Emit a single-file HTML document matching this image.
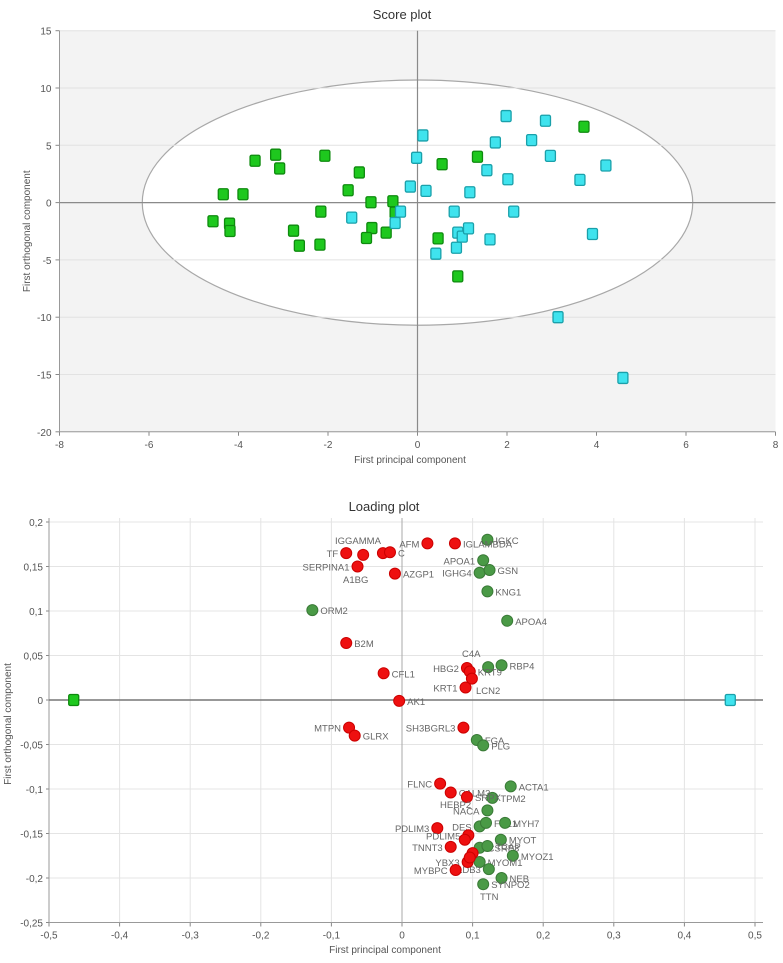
<!DOCTYPE html>
<html><head><meta charset="utf-8"><style>
html,body{margin:0;padding:0;background:#fff;}
svg{display:block;font-family:"Liberation Sans",sans-serif;}
</style></head><body>
<svg id="chart" width="783" height="963" viewBox="0 0 783 963"></svg>
<script>
// ---- Score plot data ----
const scoreGreenX=[-4.34,-3.9,-3.63,-3.17,-3.08,-2.07,-1.3,-1.55,-1.04,-0.55,-2.16,-4.57,-4.2,-4.19,-2.77,-2.64,-2.18,-1.02,-1.14,-0.7,-0.5,0.46,0.55,1.34,3.72,0.9];
const scoreGreenY=[0.73,0.73,3.65,4.18,2.98,4.09,2.63,1.08,0.03,0.12,-0.79,-1.63,-1.84,-2.48,-2.45,-3.76,-3.67,-2.22,-3.09,-2.62,-0.87,-3.12,3.35,4.0,6.62,-6.44];
const scoreCyanX=[0.12,-0.02,1.98,2.86,1.74,2.55,2.97,4.21,1.55,2.02,3.63,-0.16,0.19,1.17,-0.38,-1.47,-0.5,0.82,2.15,0.9,1.0,1.14,0.87,0.41,1.62,3.91,3.14,4.59];
const scoreCyanY=[5.86,3.91,7.55,7.14,5.25,5.45,4.08,3.24,2.83,2.04,1.98,1.4,1.02,0.9,-0.79,-1.31,-1.78,-0.79,-0.79,-2.62,-2.97,-2.25,-3.94,-4.46,-3.21,-2.74,-10.0,-15.3];
const scoreXTicks=[-8,-6,-4,-2,0,2,4,6,8];
const scoreYTicks=[15,10,5,0,-5,-10,-15,-20];
// ---- Loading plot data ----
const loadRedNames=["TF","","","C","SERPINA1","AZGP1","AFM","IGLAMBDA","B2M","CFL1","AK1","HBG2","KRT9","","KRT1","SH3BGRL3","MTPN","GLRX","FLNC","CALM3","SRPX","PDLIM3","PDLIM5","","TNNT3","","YBX3","","MYBPC"];
const loadRedX=[-0.079,-0.055,-0.027,-0.017,-0.063,-0.01,0.036,0.075,-0.079,-0.026,-0.004,0.092,0.096,0.099,0.09,0.087,-0.075,-0.067,0.054,0.069,0.092,0.05,0.094,0.089,0.069,0.1,0.093,0.096,0.076];
const loadRedY=[0.165,0.163,0.165,0.166,0.150,0.142,0.176,0.176,0.064,0.030,-0.001,0.036,0.032,0.024,0.014,-0.031,-0.031,-0.040,-0.094,-0.104,-0.109,-0.144,-0.152,-0.157,-0.165,-0.172,-0.182,-0.177,-0.191];
const loadGreenNames=["IGKC","APOA1","IGHG4","GSN","KNG1","ORM2","APOA4","","RBP4","FGA","PLG","ACTA1","TPM2","NACA","DES","FHL1","MYH7","MYOT","CSRP3","TCAP","MYOZ1","MYOM1","LDB3","NEB","SYNPO2"];
const loadGreenX=[0.121,0.115,0.11,0.124,0.121,-0.127,0.149,0.122,0.141,0.106,0.115,0.154,0.128,0.121,0.11,0.119,0.146,0.14,0.11,0.121,0.157,0.11,0.123,0.141,0.115];
const loadGreenY=[0.18,0.157,0.143,0.146,0.122,0.101,0.089,0.037,0.039,-0.045,-0.051,-0.097,-0.11,-0.124,-0.142,-0.138,-0.138,-0.157,-0.166,-0.164,-0.175,-0.182,-0.19,-0.2,-0.207];
const loadXTicks=[-0.5,-0.4,-0.3,-0.2,-0.1,0,0.1,0.2,0.3,0.4,0.5];
const loadYTicks=[0.2,0.15,0.1,0.05,0,-0.05,-0.1,-0.15,-0.2,-0.25];
const classX=[-0.465,0.465];

const NS="http://www.w3.org/2000/svg";
const svg=document.getElementById('chart');
function mk(tag,attrs,parent,text){const e=document.createElementNS(NS,tag);for(const k in attrs)e.setAttribute(k,attrs[k]);if(text!==undefined)e.textContent=text;(parent||svg).appendChild(e);return e;}
function fmt(v){return String(v).replace('.',',');}

// ===== Score plot =====
const sL=59.5,sR=775.5,sT=30.7,sB=431.8;
const sx=v=>sL+(v+8)/16*(sR-sL);
const sy=v=>sT+(15-v)/35*(sB-sT);
const g1=mk('g',{});


mk('rect',{x:sL,y:sT,width:sR-sL,height:sB-sT,fill:'#f3f3f3'},g1);
const ell=mk('ellipse',{cx:sx(0),cy:sy(0),rx:sx(6.15)-sx(0),ry:sy(0)-sy(10.7),fill:'#fff',stroke:'#a8a8a8','stroke-width':1.2},g1);


scoreYTicks.forEach(t=>{
  mk('line',{x1:sL,x2:sR,y1:sy(t),y2:sy(t),stroke:'#e2e2e2','stroke-width':1},g1);
  const tl=mk('text',{x:sL-8,y:sy(t)+4,'text-anchor':'end','font-size':10,fill:'#555'},g1,String(t));
  
  
  mk('line',{x1:sL-4,x2:sL,y1:sy(t),y2:sy(t),stroke:'#888'},g1);
});
scoreXTicks.forEach(t=>{
  const tl=mk('text',{x:sx(t),y:sB+16,'text-anchor':'middle','font-size':10,fill:'#555'},g1,String(t));
  
  
  mk('line',{x1:sx(t),x2:sx(t),y1:sB,y2:sB+4,stroke:'#888'},g1);
});
mk('line',{x1:sL,x2:sL,y1:sT,y2:sB,stroke:'#999'},g1);
mk('line',{x1:sL,x2:sR,y1:sB,y2:sB,stroke:'#999'},g1);
mk('line',{x1:sx(0),x2:sx(0),y1:sT,y2:sB,stroke:'#8a8a8a','stroke-width':1.2},g1);
mk('line',{x1:sL,x2:sR,y1:sy(0),y2:sy(0),stroke:'#8a8a8a','stroke-width':1.2},g1);
function square(x,y,fill,stroke,parent,name){
  const r=mk('rect',{x:x-5,y:y-5.5,width:10,height:11,rx:1.5,fill:fill,stroke:stroke,'stroke-width':1.3},parent);
  
  
}
scoreGreenX.forEach((v,i)=>square(sx(v),sy(scoreGreenY[i]),'#1ec81e','#0e8a0e',g1,'green-score-point'));
scoreCyanX.forEach((v,i)=>square(sx(v),sy(scoreCyanY[i]),'#3fe3ee','#1aa0aa',g1,'cyan-score-point'));
const t1=mk('text',{x:402,y:19,'text-anchor':'middle','font-size':13,fill:'#333'},g1,'Score plot');


const xl1=mk('text',{x:410,y:463,'text-anchor':'middle','font-size':10,fill:'#555'},g1,'First principal component');


const yl1=mk('text',{x:0,y:0,'text-anchor':'middle','font-size':10,fill:'#555',transform:`translate(30,${sy(-2.5)}) rotate(-90)`},g1,'First orthogonal component');



// ===== Loading plot =====
const lL=49,lR=755,lT=522,lB=922.5;
const lx=v=>402+v*706;
const ly=v=>700-v*890;
const g2=mk('g',{});


loadYTicks.forEach(t=>{
  if(t!==0)mk('line',{x1:lL,x2:lR+8,y1:ly(t),y2:ly(t),stroke:'#e4e4e4'},g2);
  const tl=mk('text',{x:lL-6,y:ly(t)+4,'text-anchor':'end','font-size':10,fill:'#555'},g2,fmt(t));
  
  
  mk('line',{x1:lL-3,x2:lL,y1:ly(t),y2:ly(t),stroke:'#888'},g2);
});
loadXTicks.forEach(t=>{
  if(t!==0&&t!==-0.5)mk('line',{x1:lx(t),x2:lx(t),y1:lT-4,y2:lB,stroke:'#e4e4e4'},g2);
  const tl=mk('text',{x:lx(t),y:lB+16,'text-anchor':'middle','font-size':10,fill:'#555'},g2,fmt(t));
  
  
  mk('line',{x1:lx(t),x2:lx(t),y1:lB,y2:lB+4,stroke:'#888'},g2);
});
mk('line',{x1:lL,x2:lL,y1:lT-4,y2:lB,stroke:'#999'},g2);
mk('line',{x1:lL,x2:lR+8,y1:lB,y2:lB,stroke:'#999'},g2);
mk('line',{x1:lx(0),x2:lx(0),y1:lT-4,y2:lB,stroke:'#aaa'},g2);
mk('line',{x1:lL,x2:lR+8,y1:ly(0),y2:ly(0),stroke:'#777','stroke-width':1.5},g2);
square(lx(classX[0]),ly(0),'#1ec81e','#0e8a0e',g2,'green-class-marker');
square(lx(classX[1]),ly(0),'#3fe3ee','#1aa0aa',g2,'cyan-class-marker');
function dot(x,y,fill,stroke,name,label,parent){
  const c=mk('circle',{cx:x,cy:y,r:5.5,fill:fill,stroke:stroke,'stroke-width':1},parent);
  
  
  if(label){
    const left=["TF","SERPINA1","AFM","HBG2","KRT1","SH3BGRL3","MTPN","FLNC","PDLIM3","PDLIM5","TNNT3","YBX3","MYBPC","APOA1","IGHG4","NACA","DES","LDB3"].includes(label);
    const tl=mk('text',{x:left?x-8:x+8,y:y+4,'text-anchor':left?'end':'start','font-size':9.5,fill:'#666'},parent,label);
    
    
  }
}
loadGreenX.forEach((v,i)=>dot(lx(v),ly(loadGreenY[i]),'#4a9a46','#3a7a37','green-loading-point',loadGreenNames[i],g2));
loadRedX.forEach((v,i)=>dot(lx(v),ly(loadRedY[i]),'#ee1010','#c00','red-loading-point',loadRedNames[i],g2));
const ex=[["A1BG",343,583],["HEBP2",440,808],["LCN2",476,694],["TTN",480,900],["IGGAMMA",335,544],["C4A",462,657]];
ex.forEach(e=>{const tl=mk('text',{x:e[1],y:e[2],'font-size':9.5,fill:'#666'},g2,e[0]);});
const t2=mk('text',{x:384,y:511,'text-anchor':'middle','font-size':13,fill:'#333'},g2,'Loading plot');


const xl2=mk('text',{x:385,y:953,'text-anchor':'middle','font-size':10,fill:'#555'},g2,'First principal component');


const yl2=mk('text',{x:0,y:0,'text-anchor':'middle','font-size':10,fill:'#555',transform:'translate(11,724) rotate(-90)'},g2,'First orthogonal component');


</script>
</body></html>
